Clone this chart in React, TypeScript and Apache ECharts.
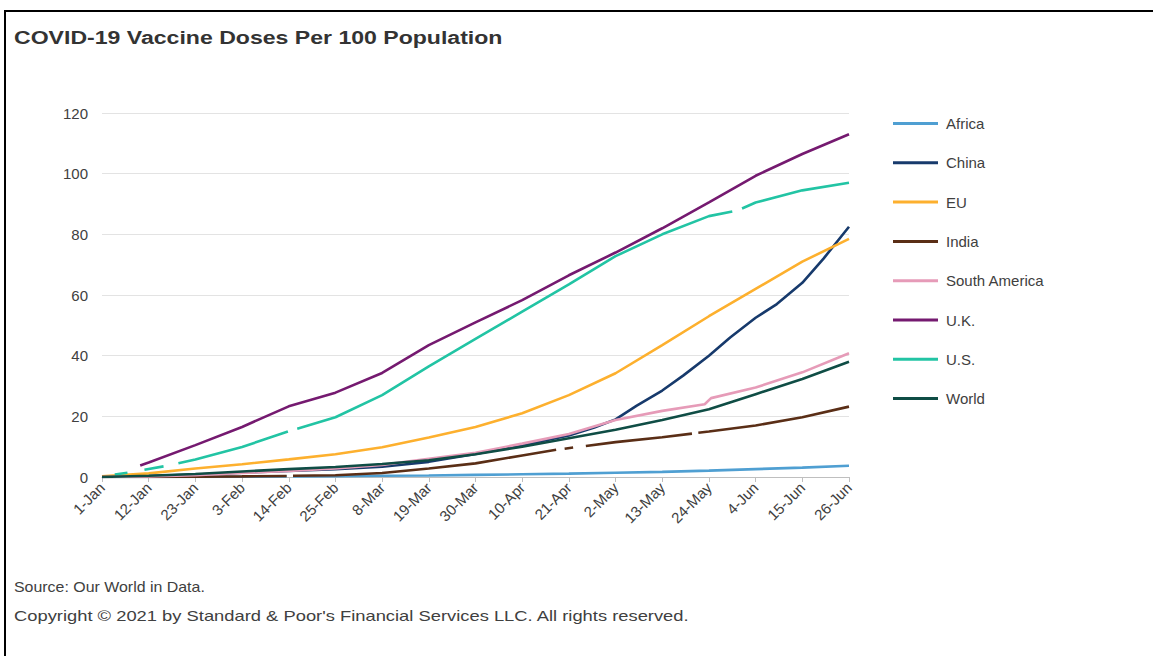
import React, { useEffect, useRef } from "react";
import * as echarts from "echarts";

// ---- Data (days since 1-Jan-2021, doses per 100 people) ----
const xTickLabels = [
  "1-Jan", "12-Jan", "23-Jan", "3-Feb", "14-Feb", "25-Feb", "8-Mar", "19-Mar", "30-Mar",
  "10-Apr", "21-Apr", "2-May", "13-May", "24-May", "4-Jun", "15-Jun", "26-Jun",
];
const TICK_STEP = 11;
const X_MAX = 176;

type Pt = [number, number | null];

const africa: Pt[] = [
  [0, 0], [11, 0.02], [22, 0.05], [33, 0.1], [43.5, 0.2], [44.2, null], [45, 0.22], [55, 0.3],
  [66, 0.4], [77, 0.5], [88, 0.7], [99, 0.9], [110, 1.1], [121, 1.4], [132, 1.7], [143, 2.1],
  [154, 2.6], [165, 3.1], [176, 3.7],
];
const china: Pt[] = [
  [0, 0], [11, 0.3], [22, 0.8], [33, 1.4], [44, 2], [55, 2.6], [66, 3.4], [77, 5], [88, 7.6],
  [99, 10.5], [110, 13.7], [116, 16.3], [121, 19], [126, 23.5], [132, 28.5], [137, 33.5],
  [143, 40], [148, 46], [154, 52.5], [159, 57], [165, 64], [170, 72], [176, 82.5],
];
const eu: Pt[] = [
  [0, 0.2], [11, 1.2], [22, 2.8], [33, 4.2], [44, 5.8], [55, 7.5], [66, 9.8], [77, 13], [88, 16.5],
  [99, 21], [110, 27], [121, 34.2], [132, 43.5], [143, 53], [154, 62], [165, 71], [176, 78.5],
];
const india: Pt[] = [
  [0, 0], [11, 0], [22, 0.1], [33, 0.2], [43.5, 0.35], [44.2, null], [45, 0.4], [55, 0.6],
  [66, 1.3], [77, 2.8], [88, 4.5], [99, 7.1], [107, 9], [108, null], [109, 9.3], [111, 9.7],
  [112.5, null], [114, 10.2], [121, 11.5], [132, 13.1], [139, 14.3], [139.8, null], [140.5, 14.6],
  [143, 15], [154, 17], [165, 19.7], [176, 23.2],
];
const southAmerica: Pt[] = [
  [0, 0], [11, 0.2], [22, 0.6], [33, 1.3], [44, 2], [55, 2.8], [66, 4], [77, 6], [88, 8],
  [99, 11], [110, 14.2], [121, 18.8], [132, 21.8], [142, 24], [143.5, 26], [154, 29.5],
  [165, 34.5], [176, 40.8],
];
const uk: Pt[] = [
  [9, 3.8], [11, 4.8], [22, 10.5], [33, 16.5], [44, 23.3], [55, 27.8], [66, 34.3], [77, 43.5],
  [88, 51], [99, 58.3], [110, 66.5], [121, 74], [132, 82], [143, 90.5], [154, 99.3],
  [165, 106.5], [176, 113],
];
const us: Pt[] = [
  [3, 0.8], [6, 1.4], [8, null], [10, 2.4], [14.5, 3.5], [16, null], [18, 4.5], [22, 5.8],
  [33, 9.9], [43.8, 15], [45, null], [46, 15.9], [55, 19.7], [66, 27], [77, 36.5], [88, 45.5],
  [99, 54.5], [110, 63.5], [121, 72.8], [132, 80], [143, 86], [148.5, 87.5], [149.6, null],
  [150.8, 88.5], [154, 90.5], [165, 94.5], [176, 97],
];
const world: Pt[] = [
  [0, 0], [11, 0.4], [22, 1], [33, 1.8], [44, 2.6], [55, 3.3], [66, 4.3], [77, 5.5], [88, 7.5],
  [99, 10], [110, 12.8], [121, 15.6], [132, 18.8], [143, 22.3], [154, 27.3], [165, 32.3], [176, 38],
];

const seriesNames = ["Africa", "China", "EU", "India", "South America", "U.K.", "U.S.", "World"];
const seriesData = [africa, china, eu, india, southAmerica, uk, us, world];
const seriesColors = [
  "#4f9fd2", "#173a6c", "#fdb02e", "#5a2e16", "#e69bb8", "#751a70", "#22c4a4", "#0f4d45",
];

const TITLE = "COVID-19 Vaccine Doses Per 100 Population";
const SOURCE = "Source: Our World in Data.";
const COPYRIGHT = "Copyright \u00a9 2021 by Standard & Poor's Financial Services LLC. All rights reserved.";

const FONT = "'Liberation Sans', Arial, sans-serif";

function measure(text: string, font: string): number {
  const ctx = document.createElement("canvas").getContext("2d");
  if (!ctx) return 1;
  ctx.font = font;
  return ctx.measureText(text).width || 1;
}

export default function App() {
  const ref = useRef<HTMLDivElement>(null);

  useEffect(() => {
    if (!ref.current) return;
    const chart = echarts.init(ref.current, null, { renderer: "svg" });

    const titleScale = 489 / measure(TITLE, `bold 19px ${FONT}`);
    const sourceScale = 191 / measure(SOURCE, `14px ${FONT}`);
    const copyScale = 676 / measure(COPYRIGHT, `14px ${FONT}`);

    chart.setOption({
      animation: false,
      backgroundColor: "#ffffff",
      grid: { left: 102, right: 304, top: 113, bottom: 179, containLabel: false },
      xAxis: {
        type: "value",
        min: 0,
        max: X_MAX,
        interval: TICK_STEP,
        axisLine: { show: true, lineStyle: { color: "#bfbfbf", width: 1 } },
        axisTick: { show: true, length: 5, lineStyle: { color: "#bfbfbf" } },
        splitLine: { show: false },
        axisLabel: {
          rotate: 45,
          margin: 8,
          fontSize: 15,
          fontFamily: FONT,
          color: "#404040",
          formatter: (v: number) => xTickLabels[Math.round(v / TICK_STEP)] ?? "",
        },
      },
      yAxis: {
        type: "value",
        min: 0,
        max: 120,
        interval: 20,
        axisLine: { show: false },
        axisTick: { show: false },
        splitLine: { show: true, lineStyle: { color: "#e3e3e3", width: 1 } },
        axisLabel: { margin: 14, fontSize: 15, fontFamily: FONT, color: "#404040" },
      },
      legend: {
        orient: "vertical",
        left: 893,
        top: 116,
        padding: 0,
        itemWidth: 45,
        itemHeight: 14,
        itemGap: 24.3,
        icon: "path://M0,6 L45,6 L45,9 L0,9 Z",
        textStyle: {
          fontSize: 15,
          fontFamily: FONT,
          color: "#404040",
          lineHeight: 14,
          padding: [0, 0, 0, 3],
        },
        data: seriesNames,
      },
      series: seriesNames.map((name, i) => ({
        name,
        type: "line",
        data: seriesData[i],
        showSymbol: false,
        symbol: "none",
        connectNulls: false,
        color: seriesColors[i],
        lineStyle: { width: 2.6, color: seriesColors[i] },
        emphasis: { disabled: true },
      })),
      graphic: [
        {
          type: "line",
          shape: { x1: 5, y1: 11, x2: 1153, y2: 11 },
          style: { stroke: "#000000", lineWidth: 2 },
        },
        {
          type: "line",
          shape: { x1: 5, y1: 10, x2: 5, y2: 656 },
          style: { stroke: "#000000", lineWidth: 2 },
        },
        {
          type: "text",
          x: 14,
          y: 37,
          scaleX: titleScale,
          style: {
            text: TITLE,
            fontSize: 19,
            fontWeight: "bold",
            fontFamily: FONT,
            fill: "#333333",
            verticalAlign: "middle",
            align: "left",
          },
        },
        {
          type: "text",
          x: 14,
          y: 587,
          scaleX: sourceScale,
          style: {
            text: SOURCE,
            fontSize: 14,
            fontFamily: FONT,
            fill: "#404040",
            verticalAlign: "middle",
            align: "left",
          },
        },
        {
          type: "text",
          x: 14,
          y: 616,
          scaleX: copyScale,
          style: {
            text: COPYRIGHT,
            fontSize: 14,
            fontFamily: FONT,
            fill: "#404040",
            verticalAlign: "middle",
            align: "left",
          },
        },
      ],
    });

    return () => {
      chart.dispose();
    };
  }, []);

  return (
    <div
      ref={ref}
      style={{ position: "absolute", left: 0, top: 0, width: 1153, height: 656, background: "#fff" }}
    />
  );
}
